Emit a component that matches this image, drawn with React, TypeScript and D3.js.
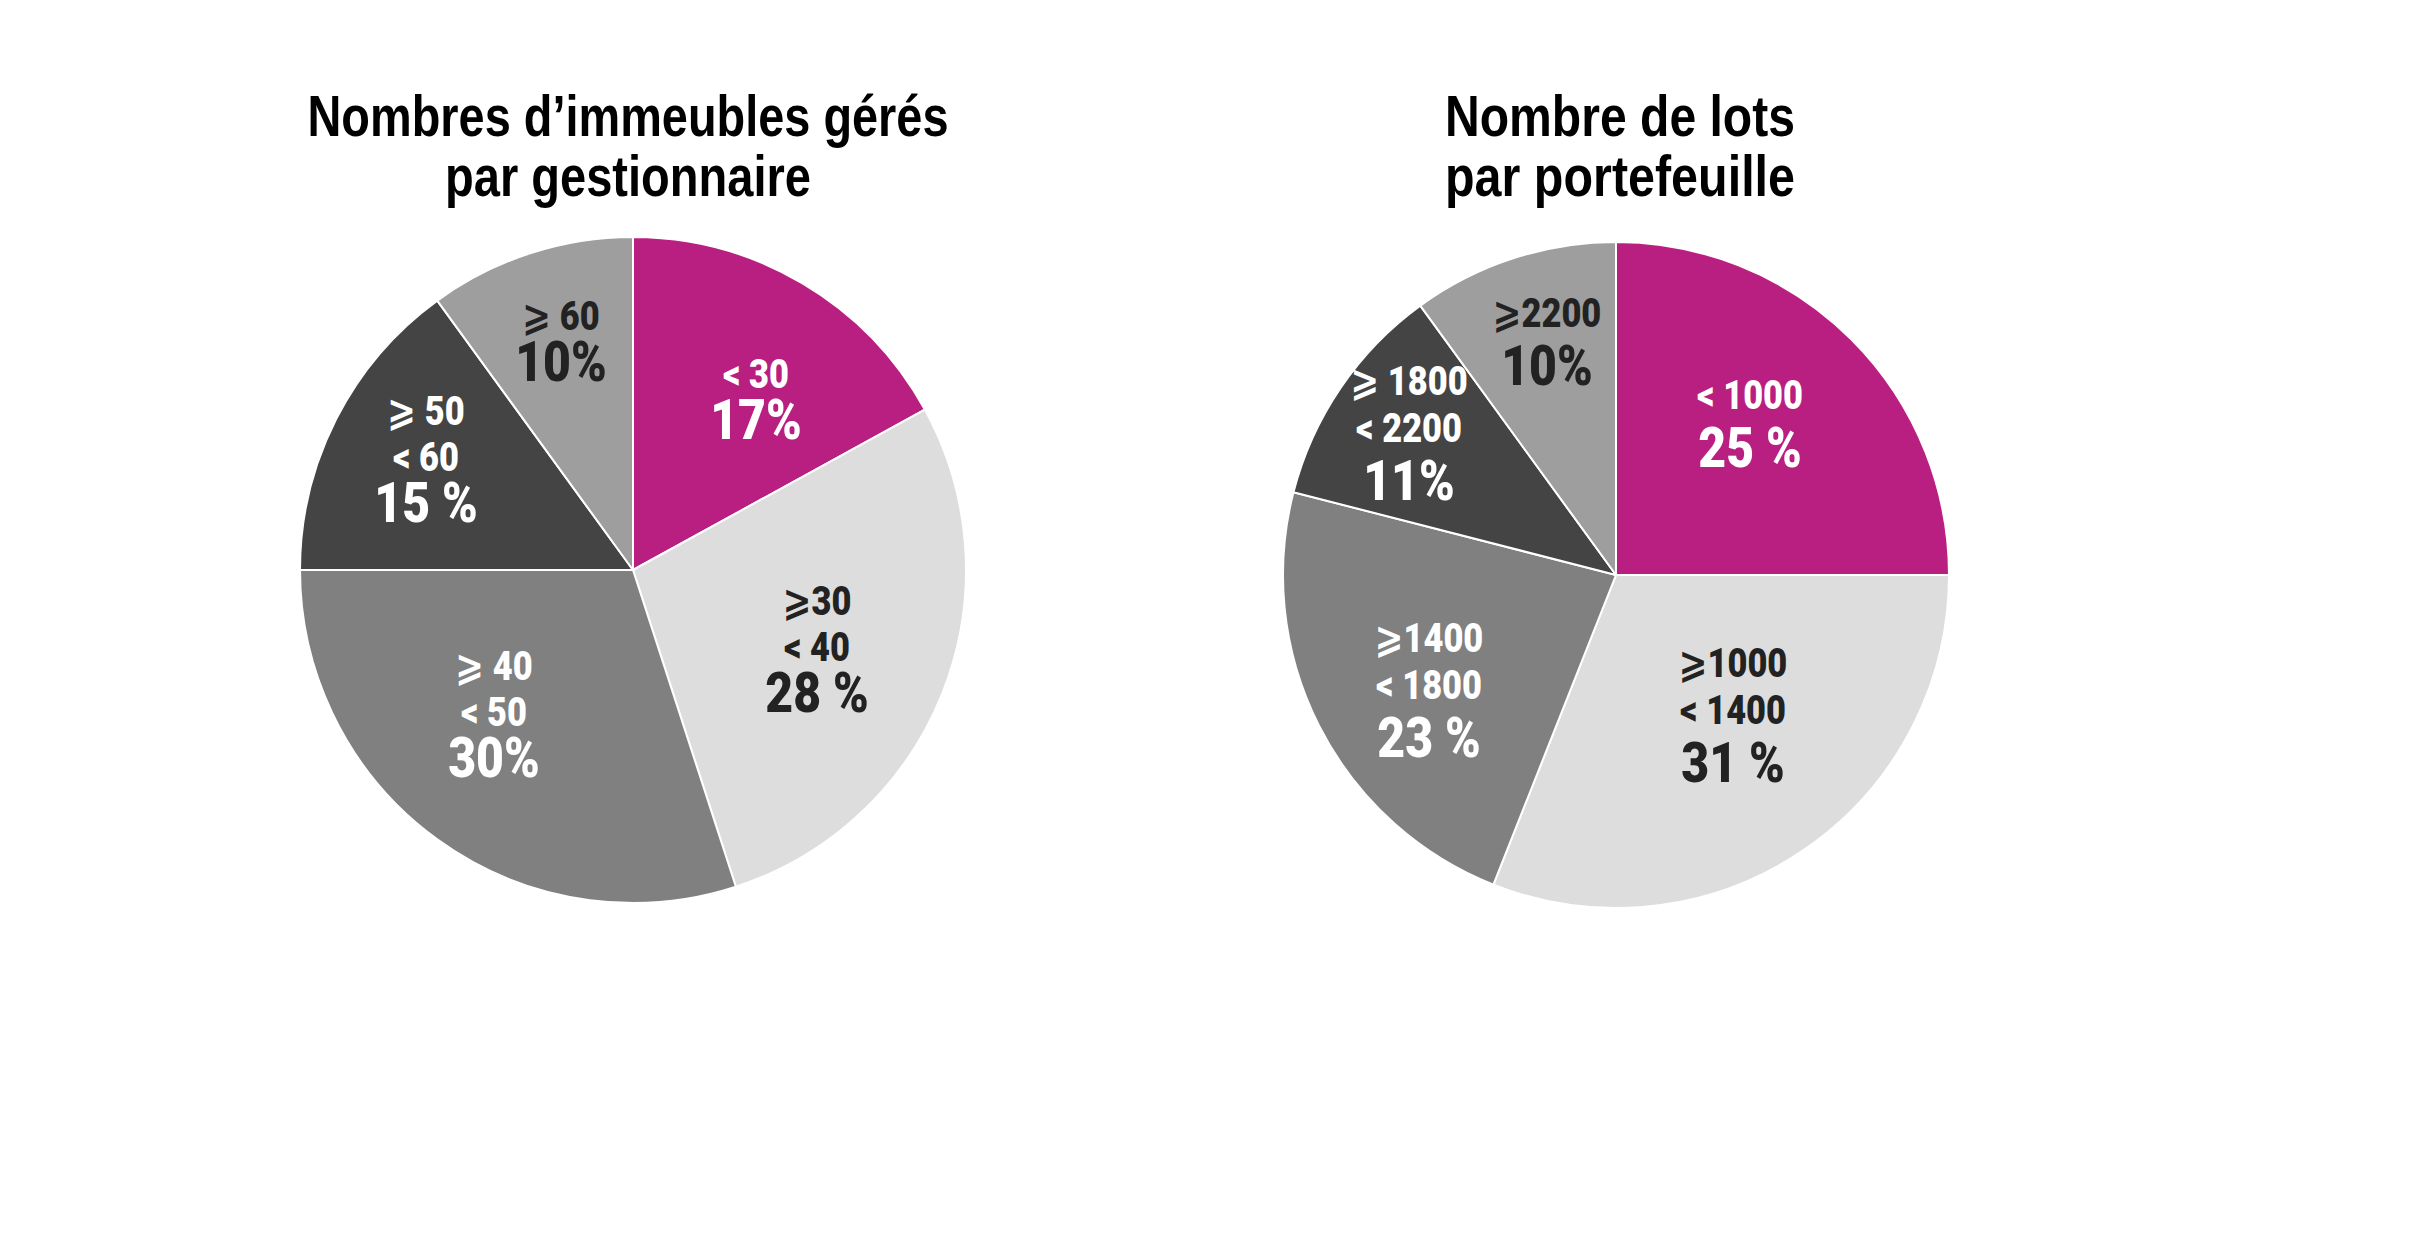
import React from "react";
import * as d3 from "d3";

// ---- data ----
const leftTitle = ["Nombres d’immeubles gérés", "par gestionnaire"];
const leftCategories = [["< 30"], ["⩾30", "< 40"], ["⩾ 40", "< 50"], ["⩾ 50", "< 60"], ["⩾ 60"]];
const leftValues = [17, 28, 30, 15, 10];
const leftPctLabels = ["17%", "28 %", "30%", "15 %", "10%"];

const rightTitle = ["Nombre de lots", "par portefeuille"];
const rightCategories = [["< 1000"], ["⩾1000", "< 1400"], ["⩾1400", "< 1800"], ["⩾ 1800", "< 2200"], ["⩾2200"]];
const rightValues = [25, 31, 23, 11, 10];
const rightPctLabels = ["25 %", "31 %", "23 %", "11%", "10%"];

// ---- style / layout ----
const sliceColors = ["#B91F80", "#DDDDDD", "#808080", "#444444", "#9E9E9E"];
const textColors = ["#FFFFFF", "#222222", "#FFFFFF", "#FFFFFF", "#222222"];

const R = 333;
const labelFont = "Roboto, 'DejaVu Sans', sans-serif";
const titleFont = "'Liberation Sans Narrow', 'Liberation Sans', sans-serif";

type PieSpec = {
  cx: number;
  cy: number;
  title: string[];
  titleX: number;
  titleWidths: number[];
  cats: string[][];
  values: number[];
  pcts: string[];
  offsets: [number, number][];
  lineStep: number;
  pctStep: number;
};

const pies: PieSpec[] = [
  {
    cx: 633,
    cy: 570,
    title: leftTitle,
    titleX: 628,
    titleWidths: [641, 366],
    cats: leftCategories,
    values: leftValues,
    pcts: leftPctLabels,
    offsets: [
      [123, -196],
      [184, 31],
      [-139, 96],
      [-207, -159],
      [-72, -254],
    ],
    lineStep: 46,
    pctStep: 45,
  },
  {
    cx: 1616,
    cy: 575,
    title: rightTitle,
    titleX: 1620,
    titleWidths: [350, 350],
    cats: rightCategories,
    values: rightValues,
    pcts: rightPctLabels,
    offsets: [
      [134, -180],
      [117, 88],
      [-187, 63],
      [-207, -194],
      [-69, -262],
    ],
    lineStep: 47,
    pctStep: 52,
  },
];

function Pie({ spec }: { spec: PieSpec }) {
  const pieGen = d3
    .pie<number>()
    .sort(null)
    .value((d) => d);
  const arcs = pieGen(spec.values);
  const arcGen = d3.arc<d3.PieArcDatum<number>>().innerRadius(0).outerRadius(R);
  const sx = 0.86;
  const smallSize = 40;
  const bigSize = 56;
  return (
    <g>
      {spec.title.map((t, i) => (
        <text
          key={"t" + i}
          x={spec.titleX}
          y={136 + i * 60}
          textAnchor="middle"
          fontFamily={titleFont}
          fontWeight="bold"
          fontSize={57}
          fill="#000"
          textLength={spec.titleWidths[i]}
          lengthAdjust="spacingAndGlyphs"
        >
          {t}
        </text>
      ))}
      <g transform={`translate(${spec.cx},${spec.cy})`}>
        {arcs.map((a, i) => (
          <path key={i} d={arcGen(a) || ""} fill={sliceColors[i]} stroke="#fff" strokeWidth={2} strokeLinejoin="round" />
        ))}
        {arcs.map((a, i) => {
          const [ox, oy] = spec.offsets[i];
          const lines = spec.cats[i];
          return (
            <g key={"l" + i} fill={textColors[i]} fontFamily={labelFont} fontWeight={900} textAnchor="middle">
              {lines.map((ln, j) => (
                <text
                  key={j}
                  transform={`translate(${ox},${oy + j * spec.lineStep + smallSize * 0.36}) scale(${sx},1)`}
                  fontSize={smallSize}
                >
                  {ln}
                </text>
              ))}
              <text
                transform={`translate(${ox},${oy + (lines.length - 1) * spec.lineStep + spec.pctStep + bigSize * 0.36}) scale(${sx},1)`}
                fontSize={bigSize}
              >
                {spec.pcts[i]}
              </text>
            </g>
          );
        })}
      </g>
    </g>
  );
}

export default function App() {
  return (
    <svg width={2430} height={1237} style={{ position: "absolute", left: 0, top: 0, background: "#fff" }}>
      <rect width={2430} height={1237} fill="#fff" />
      {pies.map((p, i) => (
        <Pie key={i} spec={p} />
      ))}
    </svg>
  );
}
